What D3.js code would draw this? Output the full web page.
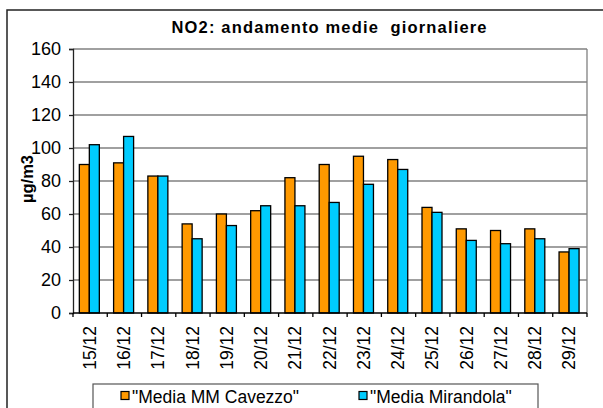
<!DOCTYPE html>
<html><head><meta charset="utf-8">
<script src="https://cdn.jsdelivr.net/npm/d3@7"></script>
<style>
html,body{margin:0;padding:0;background:#fff;}
svg{display:block;font-family:"Liberation Sans",Arial,sans-serif;}
</style></head>
<body><svg id="c" width="603" height="408"></svg>
<script>
const categories = ["15/12","16/12","17/12","18/12","19/12","20/12","21/12","22/12","23/12","24/12","25/12","26/12","27/12","28/12","29/12"];
const cavezzo = [90,91,83,54,60,62,82,90,95,93,64,51,50,51,37];
const mirandola = [102,107,83,45,53,65,65,67,78,87,61,44,42,45,39];
const seriesNames = ["\"Media MM Cavezzo\"","\"Media Mirandola\""];
const colors = ["#FF9900","#00CCFF"];
const yTicks = [0,20,40,60,80,100,120,140,160];
const title = "NO2: andamento medie  giornaliere";
const yLabel = "µg/m3";

const svg = d3.select("#c");
const L = 73, R = 587, T = 49, B = 313;

svg.append("rect").attr("x",7).attr("y",10).attr("width",640).attr("height",440)
  .attr("fill","#fff").attr("stroke","#222").attr("stroke-width",1.5);

const x = d3.scaleBand().domain(categories).range([L,R]).padding(0);
const y = d3.scaleLinear().domain([0,160]).range([B,T]);

// gridlines
svg.append("g").selectAll("line").data(yTicks.filter(d=>d>0)).join("line")
  .attr("x1",L).attr("x2",R).attr("y1",d=>y(d)).attr("y2",d=>y(d))
  .attr("stroke","#808080").attr("stroke-width",1.3);
svg.append("line").attr("x1",R).attr("x2",R).attr("y1",T).attr("y2",B)
  .attr("stroke","#808080").attr("stroke-width",1.3);

// bars
const bw = 10;
const data = categories.map((c,i)=>({c, v:[cavezzo[i], mirandola[i]]}));
const g = svg.append("g");
data.forEach(d=>{
  const cx = x(d.c) + x.bandwidth()/2 - 0.8;
  d.v.forEach((v,k)=>{
    g.append("rect").attr("x", cx - bw + k*bw).attr("y", y(v))
      .attr("width", bw).attr("height", y(0)-y(v))
      .attr("fill", colors[k]).attr("stroke","#000").attr("stroke-width",1.3);
  });
});

// y axis
const yAxis = d3.axisLeft(y).tickValues(yTicks).tickSize(4).tickPadding(8);
const ya = svg.append("g").attr("transform",`translate(${L},0)`).call(yAxis);
ya.select(".domain").attr("stroke","#222").attr("stroke-width",1.3);
ya.selectAll(".tick line").attr("stroke","#222").attr("stroke-width",1.3);
ya.selectAll("text").attr("font-size","18px").attr("fill","#000")
  .attr("font-family","'Liberation Sans',Arial,sans-serif");

// x axis
const xa = svg.append("g").attr("transform",`translate(0,${B})`);
xa.append("line").attr("x1",L).attr("x2",R).attr("y1",0).attr("y2",0)
  .attr("stroke","#000").attr("stroke-width",1.5);
xa.selectAll("line.tk").data(categories.concat(["__end"])).join("line").attr("class","tk")
  .attr("x1",(d,i)=>L + i*x.bandwidth()).attr("x2",(d,i)=>L + i*x.bandwidth())
  .attr("y1",0).attr("y2",4).attr("stroke","#000").attr("stroke-width",1.3);
xa.selectAll("text").data(categories).join("text")
  .attr("transform",d=>`translate(${x(d)+x.bandwidth()/2 - 0.5},13) rotate(-90)`)
  .attr("text-anchor","end").attr("dy","0.35em")
  .attr("font-size","17.5px").attr("fill","#000").text(d=>d);

// title
svg.append("text").attr("x",329).attr("y",33).attr("text-anchor","middle")
  .attr("font-size","16.5px").attr("font-weight","bold")
  .attr("textLength",315).attr("lengthAdjust","spacing")
  .style("white-space","pre").attr("xml:space","preserve").text(title);

// y label
svg.append("text").attr("transform","translate(27,179) rotate(-90)")
  .attr("text-anchor","middle").attr("dy","0.35em")
  .attr("font-size","16.5px").attr("font-weight","bold").text(yLabel);

// legend
svg.append("rect").attr("x",93).attr("y",384).attr("width",445).attr("height",40)
  .attr("fill","#fff").attr("stroke","#555").attr("stroke-width",1.2);
const lx = [121, 359];
seriesNames.forEach((s,k)=>{
  svg.append("rect").attr("x",lx[k]).attr("y",391.5).attr("width",8).attr("height",8)
    .attr("fill",colors[k]).attr("stroke","#000").attr("stroke-width",1.2);
  svg.append("text").attr("x",lx[k]+11).attr("y",403).attr("font-size","17.5px")
    .attr("fill","#000").text(s);
});
</script></body></html>
